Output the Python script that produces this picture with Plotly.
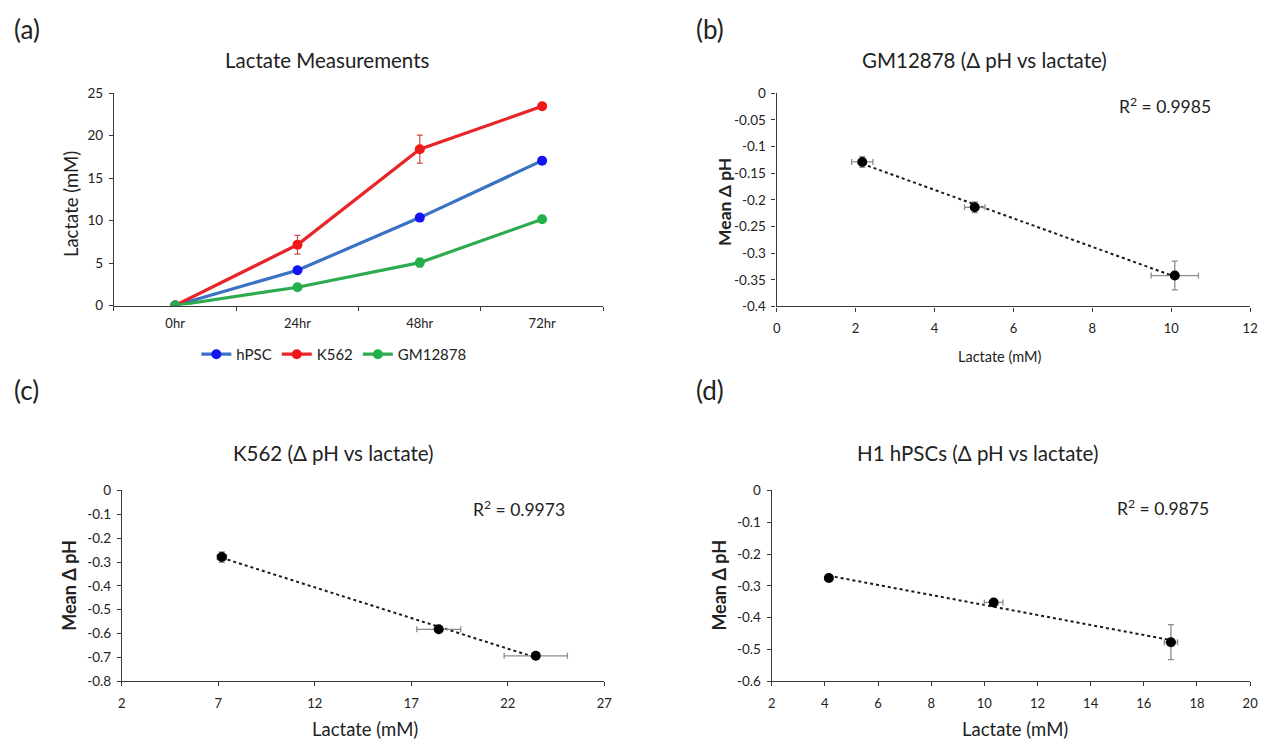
import numpy as np
import plotly.graph_objects as go

# ---------------- data ----------------
timepoints = ["0hr", "24hr", "48hr", "72hr"]

hpsc_lactate = [0.0, 4.15, 10.35, 17.05]
hpsc_lactate_err = [0.0, 0.2, 0.35, 0.25]
k562_lactate = [0.0, 7.15, 18.4, 23.45]
k562_lactate_err = [0.0, 1.1, 1.65, 0.3]
gm_lactate = [0.0, 2.15, 5.05, 10.15]
gm_lactate_err = [0.0, 0.2, 0.5, 0.3]

# delta pH vs lactate (x = lactate mM, y = mean delta pH)
gm_x = [2.17, 5.02, 10.09]
gm_x_err = [0.27, 0.26, 0.6]
gm_dph = [-0.129, -0.214, -0.342]
gm_dph_err = [0.01, 0.01, 0.027]
gm_r2 = "0.9985"

k562_x = [7.18, 18.42, 23.45]
k562_x_err = [0.24, 1.14, 1.64]
k562_dph = [-0.279, -0.582, -0.693]
k562_dph_err = [0.022, 0.01, 0.01]
k562_r2 = "0.9973"

hpsc_x = [4.15, 10.35, 17.02]
hpsc_x_err = [0.08, 0.35, 0.25]
hpsc_dph = [-0.275, -0.352, -0.477]
hpsc_dph_err = [0.006, 0.01, 0.055]
hpsc_r2 = "0.9875"

# tick labels
b_yticks = [0, -0.05, -0.1, -0.15, -0.2, -0.25, -0.3, -0.35, -0.4]
b_ytext = ["0", "-0.05", "-0.1", "-0.15", "-0.2", "-0.25", "-0.3", "-0.35", "-0.4"]
c_yticks = [0, -0.1, -0.2, -0.3, -0.4, -0.5, -0.6, -0.7, -0.8]
c_ytext = ["0", "-0.1", "-0.2", "-0.3", "-0.4", "-0.5", "-0.6", "-0.7", "-0.8"]
d_yticks = [0, -0.1, -0.2, -0.3, -0.4, -0.5, -0.6]
d_ytext = ["0", "-0.1", "-0.2", "-0.3", "-0.4", "-0.5", "-0.6"]

# ---------------- layout helpers ----------------
W, H = 1273, 750
FONT = "Lato, 'Open Sans', sans-serif"
AXIS = "#3a3a3a"
TEXT = "#222222"


def xdom(p0, p1):
    return [p0 / W, p1 / W]


def ydom(top, bottom):
    return [1 - bottom / H, 1 - top / H]


def px(x):
    return x / W


def py(y):
    return 1 - y / H


fig = go.Figure()

# ---------------- (a) lactate over time ----------------
series_a = [
    ("hPSC", hpsc_lactate, hpsc_lactate_err, "#3A72C4", "#1414F0", "#5B7FD0"),
    ("K562", k562_lactate, k562_lactate_err, "#E8262A", "#F01818", "#D2494C"),
    ("GM12878", gm_lactate, gm_lactate_err, "#2EAA4F", "#22B04A", "#3A9A55"),
]
for name, vals, errs, lc, mc, ec in series_a:
    fig.add_trace(go.Scatter(
        x=timepoints, y=vals, name=name, mode="lines+markers",
        line=dict(color=lc, width=3.2),
        marker=dict(color=mc, size=10),
        error_y=dict(type="data", array=errs, color=ec, thickness=1.2, width=3),
        xaxis="x", yaxis="y", showlegend=True,
    ))


# ---------------- scatter panels ----------------
def add_scatter(xv, xe, yv, ye, xa, ya):
    slope, intercept = np.polyfit(xv, yv, 1)
    xs = np.array([min(xv), max(xv)])
    fig.add_trace(go.Scatter(
        x=xs, y=slope * xs + intercept, mode="lines",
        line=dict(color="#1a1a1a", width=2, dash="dot"),
        xaxis=xa, yaxis=ya, showlegend=False, hoverinfo="skip",
    ))
    fig.add_trace(go.Scatter(
        x=xv, y=yv, mode="markers",
        marker=dict(color="black", size=10),
        error_x=dict(type="data", array=xe, color="#8c8c8c", thickness=1.3, width=3),
        error_y=dict(type="data", array=ye, color="#8c8c8c", thickness=1.3, width=3),
        xaxis=xa, yaxis=ya, showlegend=False,
    ))


add_scatter(gm_x, gm_x_err, gm_dph, gm_dph_err, "x2", "y2")
add_scatter(k562_x, k562_x_err, k562_dph, k562_dph_err, "x3", "y3")
add_scatter(hpsc_x, hpsc_x_err, hpsc_dph, hpsc_dph_err, "x4", "y4")

axis_common = dict(
    showgrid=False, zeroline=False, showline=True, linecolor=AXIS, linewidth=1.3,
    ticks="outside", ticklen=4, tickcolor=AXIS, tickwidth=1.2,
)
xaxis_common = dict(axis_common, ticklabelstandoff=6,
                    tickfont=dict(family=FONT, size=13, color=TEXT))
yaxis_common = dict(axis_common, ticklabelstandoff=3,
                    tickfont=dict(family=FONT, size=13.5, color=TEXT))

fig.update_layout(
    width=W, height=H,
    margin=dict(l=0, r=0, t=0, b=0),
    paper_bgcolor="white", plot_bgcolor="white",
    font=dict(family=FONT, color=TEXT),
    xaxis=dict(xaxis_common, domain=xdom(111, 605), type="category",
               tickson="boundaries", range=[-0.5, 3.5], anchor="y"),
    yaxis=dict(yaxis_common, domain=ydom(87, 304), range=[0, 25], dtick=5,
               anchor="x"),
    xaxis2=dict(xaxis_common, domain=xdom(780, 1258), range=[0, 12], dtick=2,
                anchor="y2"),
    yaxis2=dict(yaxis_common, domain=ydom(87, 305), range=[-0.4, 0],
                tickvals=b_yticks, ticktext=b_ytext, anchor="x2"),
    xaxis3=dict(xaxis_common, domain=xdom(119, 606), range=[2, 27], dtick=5,
                tick0=2, anchor="y3"),
    yaxis3=dict(yaxis_common, domain=ydom(493, 688), range=[-0.8, 0],
                tickvals=c_yticks, ticktext=c_ytext, anchor="x3"),
    xaxis4=dict(xaxis_common, domain=xdom(775, 1258), range=[2, 20], dtick=2,
                tick0=2, anchor="y4"),
    yaxis4=dict(yaxis_common, domain=ydom(493, 688), range=[-0.6, 0],
                tickvals=d_yticks, ticktext=d_ytext, anchor="x4"),
    legend=dict(orientation="h", x=px(333), y=py(354), xanchor="center",
                yanchor="middle", font=dict(family=FONT, size=15, color=TEXT),
                itemwidth=30, tracegroupgap=0, bgcolor="rgba(0,0,0,0)"),
    showlegend=True,
)


def note(text, x, y, size, rot=0, xanchor="center", bold=False):
    if bold:
        text = "<b>" + text + "</b>"
    fig.add_annotation(text=text, x=px(x), y=py(y), xref="paper", yref="paper",
                       showarrow=False, textangle=rot, xanchor=xanchor,
                       yanchor="middle", font=dict(family=FONT, size=size, color=TEXT))


# panel letters
note("(a)", 8, 21, 26, xanchor="left")
note("(b)", 697, 21, 26, xanchor="left")
note("(c)", 8, 390, 26, xanchor="left")
note("(d)", 697, 390, 26, xanchor="left")

# panel titles
note("Lactate Measurements", 327, 53, 20.5)
note("GM12878 (Δ pH vs lactate)", 990, 53, 20.5)
note("K562 (Δ pH vs lactate)", 333, 455, 20.5)
note("H1 hPSCs (Δ pH vs lactate)", 983, 455, 20.5)

# axis titles
note("Lactate (mM)", 67, 200, 18.5, rot=-90)
note("Mean Δ pH", 728, 198, 17.5, rot=-90, bold=True)
note("Lactate (mM)", 1005, 356, 14.5)
note("Mean Δ pH", 66, 590, 18, rot=-90, bold=True)
note("Lactate (mM)", 364, 737, 18.5)
note("Mean Δ pH", 722, 590, 18, rot=-90, bold=True)
note("Lactate (mM)", 1021, 737, 18.5)

# fit statistics
note("R<sup>2</sup> = " + gm_r2, 1172, 100, 17.5)
note("R<sup>2</sup> = " + k562_r2, 520, 511, 17.5)
note("R<sup>2</sup> = " + hpsc_r2, 1170, 510, 17.5)

fig.write_html("out.html")
